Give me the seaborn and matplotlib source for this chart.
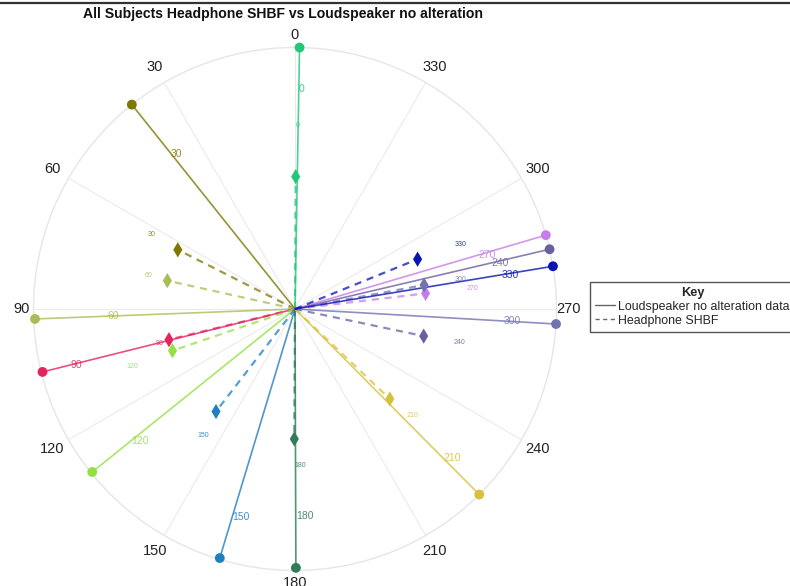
import numpy as np
import pandas as pd
import matplotlib
matplotlib.use("Agg")
import matplotlib.pyplot as plt
from matplotlib.lines import Line2D
import seaborn as sns

# ---- data ----
targets = [0, 30, 60, 90, 120, 150, 180, 210, 240, 270, 300, 330]
ls_resp_deg = [359.0, 38.6, 92.2, 104.0, 128.8, 163.2, 180.2, 224.8, 283.2, 286.4, 266.7, 279.4]
ls_resp_r = [1.0, 1.0, 0.995, 0.995, 0.995, 0.995, 0.99, 1.0, 1.0, 1.0, 1.0, 1.0]
hp_resp_deg = [359.7, 63.2, 77.5, 103.7, 108.8, 142.4, 179.7, 226.5, 258.1, 276.8, 280.5, 292.1]
hp_resp_r = [0.506, 0.502, 0.50, 0.496, 0.495, 0.495, 0.497, 0.50, 0.503, 0.503, 0.502, 0.506]
colors = ["#22c77a", "#7f7700", "#a9bd55", "#e3245f", "#93e043", "#1f7fc0",
          "#2e7d58", "#d6c13f", "#6c5fa0", "#c77de8", "#7272b0", "#0a14b4"]
theta_ticks = list(range(0, 360, 30))
title = "All Subjects Headphone SHBF vs Loudspeaker no alteration"
legend_labels = ["Loudspeaker no alteration data", "Headphone SHBF"]

# label placement (layout only)
label_r_ls = [0.84, 0.76, 0.72, 0.89, 0.81, 0.835, 0.80, 0.805, 0.77, 0.73, 0.80, 0.80]
label_r_hp = [0.70, 0.63, 0.59, 0.55, 0.68, 0.61, 0.60, 0.59, 0.62, 0.66, 0.62, 0.66]

sns.set_theme(style="white")
plt.rcParams["font.family"] = ["Liberation Sans", "DejaVu Sans"]

fig = plt.figure(figsize=(7.90, 5.86), dpi=100)
ax = fig.add_axes([0.0424, 0.0265, 0.662, 0.8925], projection="polar")
ax.set_theta_zero_location("N")
ax.set_theta_direction(1)

for i, t in enumerate(targets):
    c = colors[i]
    th = np.deg2rad(ls_resp_deg[i])
    sns.lineplot(x=[th, th], y=[0, ls_resp_r[i]], ax=ax, color=c, lw=1.2,
                 alpha=0.8, sort=False, estimator=None, legend=False)
    th2 = np.deg2rad(hp_resp_deg[i])
    sns.lineplot(x=[th2, th2], y=[0, hp_resp_r[i]], ax=ax, color=c, lw=1.6,
                 alpha=0.75, sort=False, estimator=None, legend=False,
                 linestyle=(0, (3.2, 2.6)))

df_ls = pd.DataFrame({"theta": np.deg2rad(ls_resp_deg), "r": ls_resp_r,
                      "target": [str(t) for t in targets]})
df_hp = pd.DataFrame({"theta": np.deg2rad(hp_resp_deg), "r": hp_resp_r,
                      "target": [str(t) for t in targets]})
pal = dict(zip(df_ls["target"], colors))
sns.scatterplot(data=df_ls, x="theta", y="r", hue="target", palette=pal, ax=ax,
                marker="o", s=50, edgecolor="none", legend=False, clip_on=False, zorder=5)
sns.scatterplot(data=df_hp, x="theta", y="r", hue="target", palette=pal, ax=ax,
                marker="d", s=60, edgecolor="none", legend=False, clip_on=False, zorder=5)

for i, t in enumerate(targets):
    ax.text(np.deg2rad(ls_resp_deg[i]), label_r_ls[i] * ls_resp_r[i], str(t),
            color=colors[i], fontsize=7.5, ha="left", va="center", alpha=0.85)
    ax.text(np.deg2rad(hp_resp_deg[i]), label_r_hp[i], str(t),
            color=colors[i], fontsize=5, ha="left", va="center", alpha=0.85)

ax.set_ylim(0, 1)
ax.set_rticks([])
ax.set_xticks(np.deg2rad(theta_ticks))
ax.set_xticklabels([])
for t in theta_ticks:
    rr = 1.047 + 0.027 * abs(np.sin(np.deg2rad(2 * t)))
    ax.text(np.deg2rad(t), rr, str(t), fontsize=10.5, color="#222222",
            ha="center", va="center", clip_on=False)
ax.grid(True, color="#ebebeb", lw=0.8)
ax.spines["polar"].set_color("#e6e6e6")
ax.spines["polar"].set_linewidth(1.0)
ax.set_xlabel("")
ax.set_ylabel("")

fig.text(283 / 790, 1 - 14 / 586, title, ha="center", va="center",
         fontsize=10.1, fontweight="bold", color="#111111")
fig.add_artist(Line2D([0, 1], [1 - 2.5 / 586] * 2, color="#333333", lw=1.6,
                      transform=fig.transFigure))

handles = [Line2D([], [], color="#666666", lw=1.0, ls="-"),
           Line2D([], [], color="#666666", lw=1.0, ls=(0, (3, 2.5)))]
leg = fig.legend(handles, legend_labels, title="Key", loc="upper left",
                 bbox_to_anchor=(590 / 790, 1 - 282 / 586), bbox_transform=fig.transFigure,
                 fontsize=8.9, title_fontproperties={"weight": "bold", "size": 9.2},
                 frameon=True, fancybox=False, edgecolor="#555555", framealpha=1,
                 borderpad=0.4, labelspacing=0.15, handlelength=1.6, handletextpad=0.3,
                 borderaxespad=0)
leg.get_frame().set_linewidth(1.0)

fig.canvas.draw()
r = fig.canvas.get_renderer()
lb = leg.get_window_extent(r)
tb = leg.get_title().get_window_extent(r)
ysep = (tb.y0 - 2) / fig.bbox.height
fig.add_artist(Line2D([lb.x0 / fig.bbox.width, lb.x1 / fig.bbox.width], [ysep, ysep],
                      color="#555555", lw=1.0, transform=fig.transFigure))

fig.savefig("out.png", dpi=100)
